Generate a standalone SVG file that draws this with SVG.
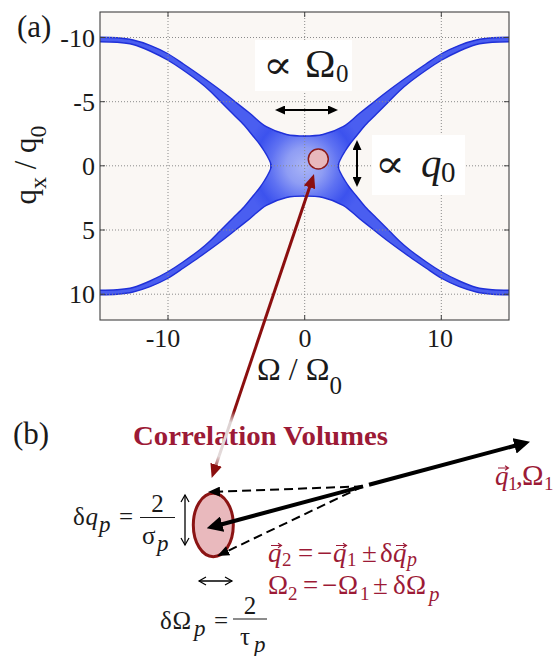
<svg xmlns="http://www.w3.org/2000/svg" width="556" height="656" viewBox="0 0 556 656">
<defs>
<style>
.t{font-family:"Liberation Serif","DejaVu Serif",serif;fill:#1a1a1a}
.tk{font-size:26px}
.it{font-style:italic}
.cr{fill:#9c1a36}
.grid{fill:none;stroke:#8a8a8a;stroke-width:1;stroke-dasharray:1 2}
.sym{font-family:"DejaVu Serif","Liberation Serif",serif;fill:#1a1a1a}
.acc{fill:none;stroke:#9c1a36;stroke-width:1.1}
.dash{fill:none;stroke:#000;stroke-width:2;stroke-dasharray:9 5}
</style>
<clipPath id="clipA"><rect x="100" y="12" width="409" height="308"/></clipPath>
<radialGradient id="blueGrad" gradientUnits="userSpaceOnUse" cx="304.7" cy="166" r="62">
<stop offset="0" stop-color="#aab5f6"/>
<stop offset="0.3" stop-color="#8f9df4"/>
<stop offset="0.55" stop-color="#5f72f2"/>
<stop offset="0.8" stop-color="#3c52ee"/>
<stop offset="1" stop-color="#4a5ef0"/>
</radialGradient>
<linearGradient id="redGrad" gradientUnits="userSpaceOnUse" x1="215.2" y1="467.6" x2="310.5" y2="184.4">
<stop offset="0" stop-color="#8b0f0f"/>
<stop offset="0.012" stop-color="#b87878"/>
<stop offset="0.04" stop-color="#e3dada"/>
<stop offset="0.16" stop-color="#ddd3d3"/>
<stop offset="0.2" stop-color="#8b0f0f"/>
<stop offset="1" stop-color="#8b0f0f"/>
</linearGradient>
<path id="qf" d="M306,136 C299.5,136 293.1,136.05 286.5,134.5 S272.4,130.2 266.3,126.7 S255.35,117.75 249.8,113.3 S238.05,103.97 233,100 S225.1,93.7 219.5,89.5 S205.5,79.25 199.5,75 S188.8,67.6 183.5,64 S173.1,56.6 167.5,53.5 S155.75,47.55 150,45.3 S138.5,41.25 133,40 S122.5,38.25 117,37.8 S105.5,37.3 96,37.3 L96,41.8 C103,41.8 110.8,41.85 117,42.3 S127.5,43.05 133,44.5 S144.25,48.4 150,51 S162,56.8 167.5,60 S177.7,66.3 183,70 S195,78.5 199.5,82 S206.6,87.8 210,91 S216.2,97.2 220,101 S229,110 233,114 S240.7,121.3 244,125 S250.4,132.8 253,136 S257.6,141.4 259.5,144 S263,149.1 264.5,151.5 S267.4,156.1 268.5,158.5 S271,162 271,166 L271,168 L306,168 Z"/>
<path id="qs" d="M306,136 C299.5,136 293.1,136.05 286.5,134.5 S272.4,130.2 266.3,126.7 S255.35,117.75 249.8,113.3 S238.05,103.97 233,100 S225.1,93.7 219.5,89.5 S205.5,79.25 199.5,75 S188.8,67.6 183.5,64 S173.1,56.6 167.5,53.5 S155.75,47.55 150,45.3 S138.5,41.25 133,40 S122.5,38.25 117,37.8 S105.5,37.3 96,37.3 M96,41.8 C103,41.8 110.8,41.85 117,42.3 S127.5,43.05 133,44.5 S144.25,48.4 150,51 S162,56.8 167.5,60 S177.7,66.3 183,70 S195,78.5 199.5,82 S206.6,87.8 210,91 S216.2,97.2 220,101 S229,110 233,114 S240.7,121.3 244,125 S250.4,132.8 253,136 S257.6,141.4 259.5,144 S263,149.1 264.5,151.5 S267.4,156.1 268.5,158.5 S271,162 271,166 L271,168"/>
<marker id="ha" viewBox="0 0 10 9" refX="2" refY="4.5" markerWidth="10" markerHeight="9" markerUnits="userSpaceOnUse" orient="auto-start-reverse"><path d="M0,0 L10,4.5 L0,9 z" fill="#000"/></marker>
<marker id="hr" viewBox="0 0 14 12" refX="3" refY="6" markerWidth="14" markerHeight="12" markerUnits="userSpaceOnUse" orient="auto-start-reverse"><path d="M0,0 L14,6 L0,12 z" fill="#8b0f0f"/></marker>
<marker id="hk" viewBox="0 0 16 16" refX="4" refY="8" markerWidth="16" markerHeight="16" markerUnits="userSpaceOnUse" orient="auto-start-reverse"><path d="M0,0 L16,8 L0,16 z" fill="#000"/></marker>
<marker id="hd" viewBox="0 0 12 10" refX="3" refY="5" markerWidth="12" markerHeight="10" markerUnits="userSpaceOnUse" orient="auto-start-reverse"><path d="M0,0 L12,5 L0,10 z" fill="#000"/></marker>
<marker id="hv" viewBox="-1 -1 10 10" refX="7" refY="4" markerWidth="10" markerHeight="10" markerUnits="userSpaceOnUse" orient="auto-start-reverse"><path d="M0,0 L7,4 L0,8" fill="none" stroke="#000" stroke-width="1.2"/></marker>
</defs>
<rect width="556" height="656" fill="#fff"/>

<g id="plot-a">
<rect x="100" y="12" width="409" height="308" fill="#faf7f4"/>
<g id="band" clip-path="url(#clipA)">
<g fill="url(#blueGrad)">
<use href="#qf"/>
<use href="#qf" transform="matrix(-1,0,0,1,609.4,0)"/>
<use href="#qf" transform="matrix(1,0,0,-1,0,332)"/>
<use href="#qf" transform="matrix(-1,0,0,-1,609.4,332)"/>
</g>
<g fill="none" stroke="#1f30d8" stroke-width="1.4" stroke-linejoin="round">
<use href="#qs"/>
<use href="#qs" transform="matrix(-1,0,0,1,609.4,0)"/>
<use href="#qs" transform="matrix(1,0,0,-1,0,332)"/>
<use href="#qs" transform="matrix(-1,0,0,-1,609.4,332)"/>
</g>
</g>
<g class="grid">
<path d="M168,12 V320 M304.7,12 V320 M441.3,12 V320"/>
<path d="M100,37.5 H509 M100,101.7 H509 M100,165.8 H509 M100,230 H509 M100,294.2 H509"/>
</g>
<rect x="100" y="12" width="409" height="308" fill="none" stroke="#404040" stroke-width="1.1"/>
<path d="M168,320 v-5 M304.7,320 v-5 M441.3,320 v-5 M168,12 v5 M304.7,12 v5 M441.3,12 v5 M100,37.5 h5 M100,101.7 h5 M100,165.8 h5 M100,230 h5 M100,294.2 h5 M509,37.5 h-5 M509,101.7 h-5 M509,165.8 h-5 M509,230 h-5 M509,294.2 h-5" stroke="#404040" stroke-width="1"/>
</g>

<g id="axis-labels" class="t">
<text x="17" y="36.5" font-size="31">(a)</text>
<g class="tk" text-anchor="end">
<text x="95" y="46.7">-10</text>
<text x="95" y="110.9">-5</text>
<text x="95" y="175">0</text>
<text x="95" y="239.2">5</text>
<text x="95" y="303.4">10</text>
</g>
<g class="tk" text-anchor="middle">
<text x="163" y="347">-10</text>
<text x="305" y="347">0</text>
<text x="440" y="347">10</text>
</g>
<text x="257" y="380" font-size="32">Ω / Ω<tspan font-size="25" dy="14">0</tspan></text>
<text transform="translate(36,165) rotate(-90)" text-anchor="middle" font-size="31">q<tspan font-size="24" dy="10">x</tspan><tspan dy="-10"> / q</tspan><tspan font-size="24" dy="10">0</tspan></text>
</g>

<g id="label-omega0">
<rect x="255" y="40" width="97" height="51" fill="#fff"/>
<text class="sym" x="263" y="78" font-size="38" textLength="30" lengthAdjust="spacingAndGlyphs">∝</text>
<text class="t" x="305" y="77.3" font-size="41">Ω<tspan x="336" y="82" font-size="25">0</tspan></text>
</g>

<g id="label-q0">
<rect x="372" y="135" width="93" height="60" fill="#fff"/>
<text class="sym" x="375" y="177" font-size="38" textLength="30" lengthAdjust="spacingAndGlyphs">∝</text>
<text class="t" x="421" y="177" font-size="41"><tspan class="it">q</tspan><tspan x="441" y="182" font-size="29">0</tspan></text>
</g>

<g id="volume-a">
<circle cx="318.3" cy="159" r="10" fill="#e8b8bc" stroke="#8b1a1a" stroke-width="1.5"/>
</g>

<g id="panel-b-labels">
<text class="t" x="13" y="444" font-size="31">(b)</text>
<text class="t cr" x="133" y="445" font-size="28" font-weight="bold" textLength="255" lengthAdjust="spacingAndGlyphs">Correlation Volumes</text>
</g>

<g id="volume-b">
<ellipse cx="213.3" cy="525" rx="20" ry="31.7" fill="#e9b9bd" stroke="#8b1414" stroke-width="3"/>
</g>

<g id="formula-dq" class="t" font-size="25">
<text y="525"><tspan x="73">δ</tspan><tspan x="85.5" class="it">q</tspan><tspan x="99" y="532" font-size="23" class="it">p</tspan><tspan x="119" y="525">=</tspan></text>
<line x1="140" y1="517.5" x2="175" y2="517.5" stroke="#1a1a1a" stroke-width="1.2"/>
<text x="157.5" y="512" text-anchor="middle">2</text>
<text y="544"><tspan x="142">σ</tspan><tspan x="157" y="551" font-size="23" class="it">p</tspan></text>
</g>

<g id="formula-dOmega" class="t" font-size="25">
<text y="629"><tspan x="160">δ</tspan><tspan x="172.5">Ω</tspan><tspan x="194" y="636" font-size="23" class="it">p</tspan><tspan x="214" y="629">=</tspan></text>
<line x1="233" y1="619" x2="267" y2="619" stroke="#1a1a1a" stroke-width="1.2"/>
<text x="250" y="614" text-anchor="middle">2</text>
<text y="645"><tspan x="240">τ</tspan><tspan x="254" y="652" font-size="23" class="it">p</tspan></text>
</g>

<g id="label-q1" font-size="27">
<text class="t cr" y="485"><tspan x="495" class="it">q</tspan><tspan x="508" y="490" font-size="19">1</tspan><tspan x="516" y="485">,</tspan><tspan x="522" font-size="29">Ω</tspan><tspan x="544" y="490" font-size="19">1</tspan></text>
<path class="acc" d="M498,468 H508.5 M505,465.8 L508.5,468 L505,470.2"/>
</g>

<g id="label-q2" font-size="27">
<text class="t cr" y="561.5"><tspan x="268" class="it">q</tspan><tspan x="282" y="566" font-size="19">2</tspan><tspan x="298" y="561.5">=</tspan><tspan x="317">−</tspan><tspan x="333" class="it">q</tspan><tspan x="347" y="566" font-size="19">1</tspan><tspan x="362" y="561.5">±</tspan><tspan x="380">δ</tspan><tspan x="393" class="it">q</tspan><tspan x="407" y="566" font-size="20" class="it">p</tspan></text>
<path class="acc" d="M271,545.5 H281.5 M278,543.3 L281.5,545.5 L278,547.7 M336,545.5 H346.5 M343,543.3 L346.5,545.5 L343,547.7 M396,545.5 H406.5 M403,543.3 L406.5,545.5 L403,547.7"/>
</g>

<g id="label-omega2" font-size="27">
<text class="t cr" y="594"><tspan x="268">Ω</tspan><tspan x="288" y="599.5" font-size="19">2</tspan><tspan x="303" y="594">=</tspan><tspan x="322">−</tspan><tspan x="338">Ω</tspan><tspan x="360" y="599.5" font-size="19">1</tspan><tspan x="373" y="594">±</tspan><tspan x="393">δ</tspan><tspan x="406">Ω</tspan><tspan x="429" y="601" font-size="21" class="it">p</tspan></text>
</g>

<g id="connectors" fill="none">
<path d="M283,110 L330,110" stroke="#000" stroke-width="2" marker-start="url(#ha)" marker-end="url(#ha)"/>
<path d="M357,148 L357,179" stroke="#000" stroke-width="2" marker-start="url(#ha)" marker-end="url(#ha)"/>
<path d="M215.2,467.6 L310.5,184.4" stroke="url(#redGrad)" stroke-width="3" marker-start="url(#hr)" marker-end="url(#hr)"/>
<path d="M218.3,525.2 L363,486.4" stroke="#000" stroke-width="4" marker-start="url(#hk)"/>
<path d="M369,484.8 L518.4,444.8" stroke="#000" stroke-width="4" marker-end="url(#hk)"/>
<path class="dash" d="M363,486.3 L217,491.7" marker-end="url(#hd)"/>
<path class="dash" d="M363,486.3 L225.4,552.1" marker-end="url(#hd)"/>
<path d="M185,495 L185,545" stroke="#000" stroke-width="1.3" marker-start="url(#hv)" marker-end="url(#hv)"/>
<path d="M199,581 L232,581" stroke="#000" stroke-width="1.3" marker-start="url(#hv)" marker-end="url(#hv)"/>
</g>
</svg>
